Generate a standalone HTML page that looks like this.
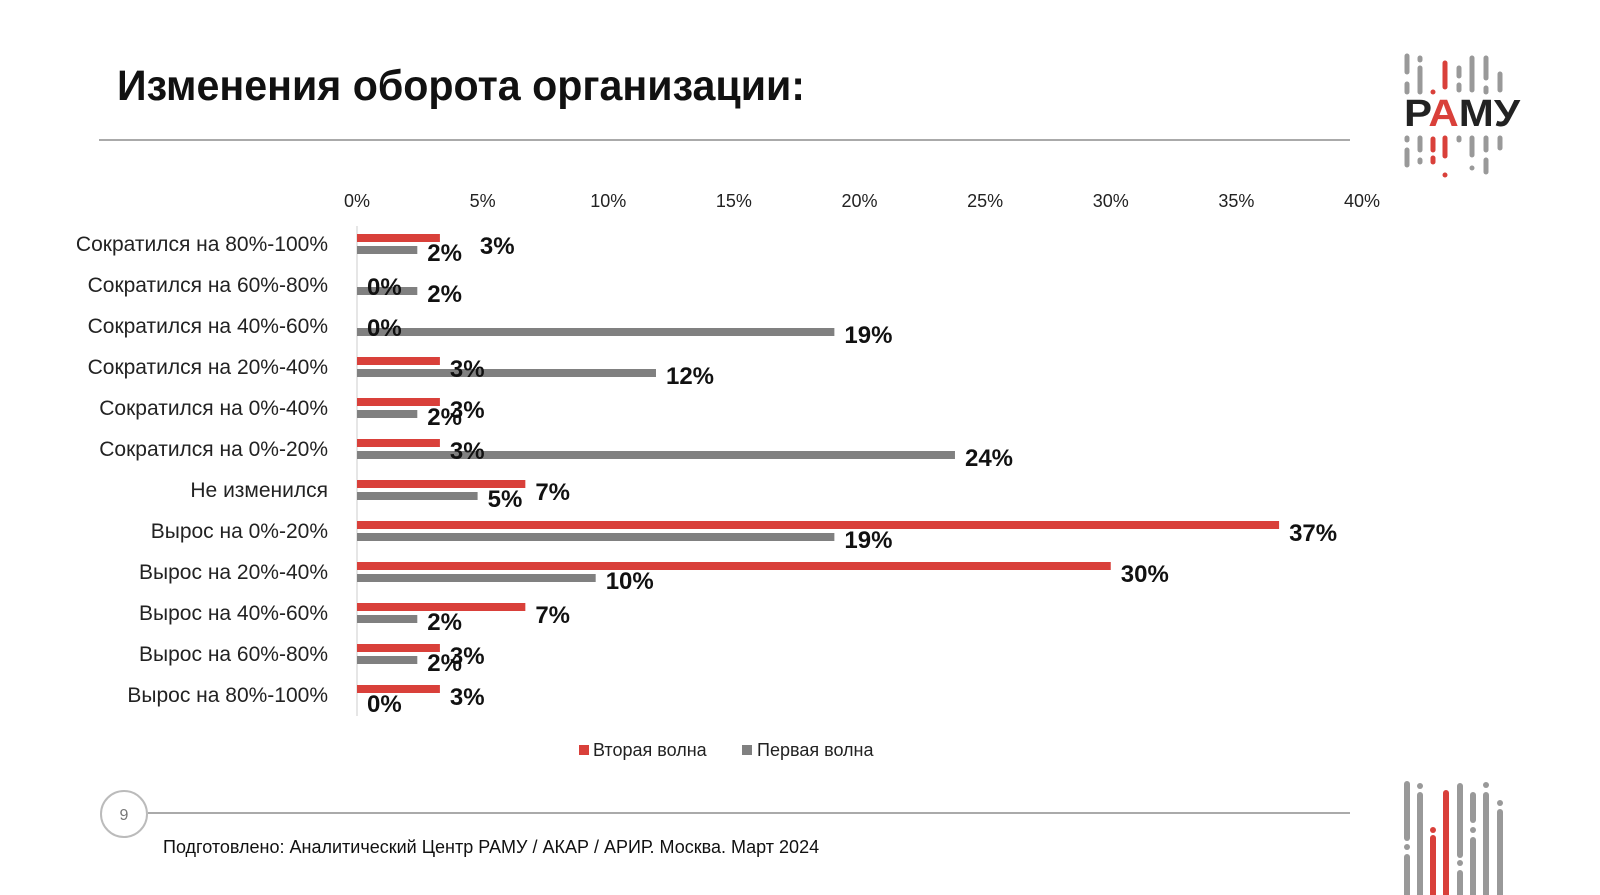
<!DOCTYPE html>
<html><head><meta charset="utf-8"><style>
body{margin:0;width:1600px;height:895px;background:#fff;overflow:hidden;font-family:"Liberation Sans","DejaVu Sans",sans-serif}
svg{position:absolute;left:0;top:0}
</style></head><body>
<svg width="1600" height="895">
<text x="117" y="100" font-size="43" font-weight="bold" fill="#111" textLength="688" lengthAdjust="spacingAndGlyphs">Изменения оборота организации:</text>
<line x1="99" y1="140" x2="1350" y2="140" stroke="#aaa" stroke-width="2"/>
<g id="logo">
<text x="1404" y="126" font-size="38" font-weight="bold" fill="#222" textLength="116" lengthAdjust="spacingAndGlyphs">Р<tspan fill="#d9403a">А</tspan>МУ</text>
</g>
<g id="chart"></g>
<g>
<rect x="579" y="745" width="10" height="10" fill="#d9403a"/>
<text x="593" y="756" font-size="18" fill="#222">Вторая волна</text>
<rect x="742" y="745" width="10" height="10" fill="#808080"/>
<text x="757" y="756" font-size="18" fill="#222">Первая волна</text>
</g>
<circle cx="124" cy="814" r="23" fill="none" stroke="#bbb" stroke-width="2"/>
<text x="124" y="820" font-size="16" fill="#777" text-anchor="middle">9</text>
<line x1="148" y1="813" x2="1350" y2="813" stroke="#aaa" stroke-width="2"/>
<text x="163" y="853" font-size="18" fill="#111">Подготовлено: Аналитический Центр РАМУ / АКАР / АРИР. Москва. Март 2024</text>
<g id="deco"></g>
</svg>
<script>
const categories=["Сократился на 80%-100%","Сократился на 60%-80%","Сократился на 40%-60%","Сократился на 20%-40%","Сократился на 0%-40%","Сократился на 0%-20%","Не изменился","Вырос на 0%-20%","Вырос на 20%-40%","Вырос на 40%-60%","Вырос на 60%-80%","Вырос на 80%-100%"];
const secondWave=[3.3,0,0,3.3,3.3,3.3,6.7,36.7,30.0,6.7,3.3,3.3];
const firstWave=[2.4,2.4,19.0,11.9,2.4,23.8,4.8,19.0,9.5,2.4,2.4,0];
const secondLabels=["3%","0%","0%","3%","3%","3%","7%","37%","30%","7%","3%","3%"];
const firstLabels=["2%","2%","19%","12%","2%","24%","5%","19%","10%","2%","2%","0%"];
const ticks=[0,5,10,15,20,25,30,35,40];
const NS="http://www.w3.org/2000/svg";
const g=document.getElementById('chart');
const x=v=>357+v*25.125;
const y=i=>244+i*41;
function mk(t,a,txt){const e=document.createElementNS(NS,t);for(const k in a)e.setAttribute(k,a[k]);if(txt!==undefined)e.textContent=txt;g.appendChild(e);return e;}
ticks.forEach(t=>{const e=mk('text',{x:x(t),y:207,'font-size':18,fill:'#222','text-anchor':'middle'},t+'%');

});
const ax=mk('line',{x1:357,y1:226,x2:357,y2:716,stroke:'#ccc','stroke-width':1});


categories.forEach((c,i)=>{
const cy=y(i);
const l=mk('text',{x:328,y:cy+7,'font-size':21,fill:'#222','text-anchor':'end'},c);


const r=mk('rect',{x:357,y:cy-10,width:x(secondWave[i])-357,height:8,fill:'#d9403a'});


const b=mk('rect',{x:357,y:cy+2,width:x(firstWave[i])-357,height:8,fill:'#808080'});


const rl=mk('text',{x:Math.max(x(secondWave[i]),357)+10+(i===0?30:0),y:cy+10,'font-size':24,'font-weight':'bold',fill:'#111'},secondLabels[i]);


const bl=mk('text',{x:Math.max(x(firstWave[i]),357)+10,y:cy+17,'font-size':24,'font-weight':'bold',fill:'#111'},firstLabels[i]);


});
const lg=document.getElementById('logo');
function bar(p,x1,y1,y2,col,w){const e=document.createElementNS(NS,'line');e.setAttribute('x1',x1);e.setAttribute('x2',x1);e.setAttribute('y1',y1);e.setAttribute('y2',y2);e.setAttribute('stroke',col);e.setAttribute('stroke-width',w);e.setAttribute('stroke-linecap','round');p.appendChild(e);}
const G='#999',R='#d9403a';
[[1437,56,72,G],[1437,84,92,G],[1450,58,60,G],[1450,68,92,G],[1463,92,92,R],[1475,63,87,R],[1489,68,76,G],[1489,85,90,G],[1502,58,90,G],[1516,58,78,G],[1516,88,92,G],[1530,74,90,G]].forEach(a=>bar(lg,a[0]-30,a[1],a[2],a[3],5));
[[1437,138,140,G],[1437,150,165,G],[1450,138,150,G],[1450,160,162,G],[1463,139,150,R],[1463,158,162,R],[1475,138,156,R],[1475,175,175,R],[1489,138,140,G],[1502,138,155,G],[1502,168,168,G],[1516,138,150,G],[1516,160,172,G],[1530,138,148,G]].forEach(a=>bar(lg,a[0]-30,a[1],a[2],a[3],5));
const dg=document.getElementById('deco');
[[1437,784,838,G],[1437,847,847,G],[1437,857,900,G],[1450,786,786,G],[1450,795,900,G],[1463,830,830,R],[1463,838,900,R],[1476,793,900,R],[1490,786,855,G],[1490,863,863,G],[1490,873,900,G],[1503,795,820,G],[1503,830,830,G],[1503,840,900,G],[1516,785,785,G],[1516,795,900,G],[1530,803,803,G],[1530,812,900,G]].forEach(a=>bar(dg,a[0]-30,a[1],a[2],a[3],6));
</script>
</body></html>
